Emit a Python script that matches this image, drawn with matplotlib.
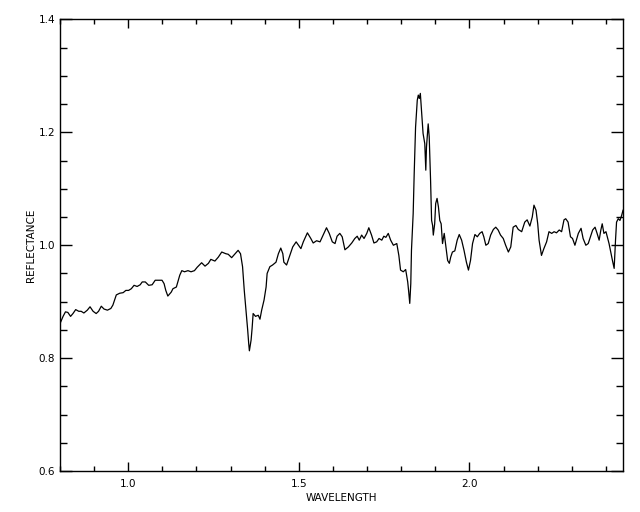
import matplotlib
matplotlib.use("Agg")
import matplotlib.pyplot as plt
from matplotlib.ticker import MultipleLocator

# spectrum (wavelength, reflectance)
wavelength = [
    0.802, 0.809, 0.816, 0.823, 0.831, 0.838, 0.846, 0.855, 0.862, 0.870,
    0.880, 0.888, 0.897, 0.906, 0.913, 0.921, 0.929, 0.939, 0.949, 0.955,
    0.965, 0.975, 0.985, 0.993, 1.001, 1.009, 1.017, 1.026, 1.035, 1.041,
    1.050, 1.060, 1.070, 1.079, 1.089, 1.099, 1.105, 1.110, 1.116, 1.126,
    1.131, 1.141, 1.151, 1.157, 1.165, 1.175, 1.184, 1.194, 1.202,
    1.215, 1.225, 1.235, 1.242, 1.254, 1.264, 1.274, 1.286, 1.293, 1.303,
    1.313, 1.322, 1.329, 1.335, 1.340, 1.345, 1.350, 1.353, 1.355, 1.360,
    1.363, 1.366, 1.373, 1.381, 1.386, 1.391, 1.398, 1.404, 1.407, 1.415,
    1.423, 1.433, 1.440, 1.447, 1.453, 1.456, 1.464, 1.472, 1.482, 1.492,
    1.498, 1.506,
    1.513, 1.525, 1.535, 1.542, 1.552, 1.562, 1.571, 1.581, 1.589, 1.598,
    1.606, 1.612, 1.620, 1.627, 1.635, 1.645, 1.655, 1.664, 1.671, 1.677,
    1.684, 1.691, 1.699, 1.705, 1.713, 1.720, 1.728, 1.735, 1.743, 1.749,
    1.755, 1.762, 1.769, 1.777, 1.787, 1.793, 1.798, 1.806, 1.813, 1.819,
    1.822, 1.825, 1.828, 1.830,
    1.835, 1.838, 1.842, 1.847, 1.850, 1.853, 1.856, 1.860, 1.864, 1.869,
    1.872, 1.874, 1.879, 1.882, 1.886, 1.889, 1.892, 1.894, 1.898, 1.901,
    1.905, 1.909, 1.913, 1.917, 1.921, 1.926, 1.931, 1.936, 1.941, 1.945,
    1.950, 1.957, 1.964, 1.970, 1.977, 1.984, 1.991, 1.997, 2.003, 2.009,
    2.016, 2.023, 2.030, 2.037, 2.042, 2.048, 2.055, 2.062, 2.070, 2.077,
    2.084, 2.091,
    2.099, 2.106, 2.114, 2.121, 2.128, 2.136, 2.143, 2.153, 2.162, 2.169,
    2.177, 2.184, 2.189, 2.195, 2.200, 2.204, 2.211, 2.218, 2.226, 2.233,
    2.241, 2.248, 2.255, 2.263, 2.270, 2.277, 2.282, 2.289, 2.296, 2.302,
    2.309, 2.319, 2.327, 2.333, 2.341, 2.348, 2.353, 2.361, 2.368, 2.374,
    2.380, 2.385, 2.389, 2.394, 2.400, 2.404, 2.409, 2.414, 2.419, 2.424,
    2.428, 2.431, 2.436, 2.441, 2.446, 2.450,
]
reflectance = [
    0.864, 0.874, 0.882, 0.881, 0.874, 0.879, 0.886, 0.883, 0.883, 0.880,
    0.885, 0.891, 0.883, 0.879, 0.883, 0.892, 0.887, 0.885, 0.888, 0.894,
    0.912, 0.915, 0.916, 0.920, 0.920, 0.923, 0.929, 0.927, 0.930, 0.935,
    0.935, 0.929, 0.930, 0.938, 0.938, 0.938, 0.932, 0.920, 0.910, 0.917,
    0.923, 0.926, 0.947, 0.955, 0.953, 0.955, 0.953, 0.955, 0.961,
    0.969, 0.963, 0.968, 0.975, 0.972, 0.979, 0.988, 0.985, 0.984, 0.978,
    0.985, 0.991, 0.985, 0.962, 0.920, 0.885, 0.850, 0.826, 0.813, 0.832,
    0.853, 0.879, 0.874, 0.876, 0.869, 0.885, 0.903, 0.926, 0.950, 0.962,
    0.965, 0.970, 0.985, 0.995, 0.985, 0.970, 0.965, 0.979, 0.997, 1.006,
    1.001, 0.994,
    1.006, 1.022, 1.012, 1.004, 1.008, 1.006, 1.018, 1.031, 1.021, 1.006,
    1.003, 1.016, 1.021, 1.015, 0.992, 0.997, 1.004, 1.012, 1.016, 1.009,
    1.018, 1.012, 1.021, 1.031, 1.018, 1.004, 1.006, 1.012, 1.009, 1.016,
    1.014, 1.021, 1.009, 1.000, 1.003, 0.982, 0.956, 0.953, 0.957, 0.935,
    0.917, 0.897, 0.932, 0.991,
    1.056, 1.127, 1.209, 1.257, 1.266, 1.260, 1.269, 1.233, 1.198, 1.180,
    1.133, 1.174, 1.215, 1.192, 1.115, 1.044, 1.035, 1.018, 1.038, 1.074,
    1.083, 1.068, 1.044, 1.038, 1.003, 1.021, 0.997, 0.973, 0.968, 0.979,
    0.988, 0.990, 1.009, 1.019, 1.009, 0.991, 0.970, 0.956, 0.973, 1.003,
    1.019, 1.015, 1.021, 1.024, 1.015, 1.000, 1.003, 1.018, 1.028, 1.032,
    1.027, 1.018,
    1.012, 1.000, 0.988, 0.997, 1.032, 1.035, 1.028, 1.024, 1.041, 1.045,
    1.034, 1.050, 1.071, 1.062, 1.038, 1.009, 0.982, 0.994, 1.006, 1.024,
    1.021, 1.024, 1.022, 1.027, 1.024, 1.045, 1.047, 1.041, 1.015, 1.012,
    1.000, 1.021, 1.030, 1.012, 1.000, 1.003, 1.012, 1.027, 1.032, 1.021,
    1.009, 1.027, 1.038, 1.021, 1.024, 1.015, 1.003, 0.988, 0.973, 0.959,
    1.009, 1.041, 1.047, 1.044, 1.053, 1.062,
]

x_limits = (0.8, 2.449)
y_limits = (0.6, 1.4)

plt.rcParams["font.family"] = ["DejaVu Sans"]

fig = plt.figure(figsize=(6.4, 5.12), dpi=100)
ax = fig.add_axes([0.09375, 0.080, 0.8792, 0.882])
ax.plot(wavelength, reflectance, color="black", linewidth=0.9)

ax.set_xlim(*x_limits)
ax.set_ylim(*y_limits)
ax.xaxis.set_major_locator(MultipleLocator(0.5))
ax.xaxis.set_minor_locator(MultipleLocator(0.1))
ax.yaxis.set_major_locator(MultipleLocator(0.2))
ax.yaxis.set_minor_locator(MultipleLocator(0.05))
ax.tick_params(axis="both", which="both", direction="in", top=True, right=True,
               width=1.0, labelsize=7.5, colors="black")
ax.tick_params(axis="x", which="major", length=6.5, pad=5.5)
ax.tick_params(axis="x", which="minor", length=3.6)
ax.tick_params(axis="y", which="major", length=8.6, pad=3.5)
ax.tick_params(axis="y", which="minor", length=5.0)
for spine in ax.spines.values():
    spine.set_linewidth(1.0)

ax.set_xlabel("WAVELENGTH", fontsize=7.5, labelpad=3)
ax.set_ylabel("REFLECTANCE", fontsize=7.5, labelpad=2)

fig.savefig("out.png", dpi=100, facecolor="white")
